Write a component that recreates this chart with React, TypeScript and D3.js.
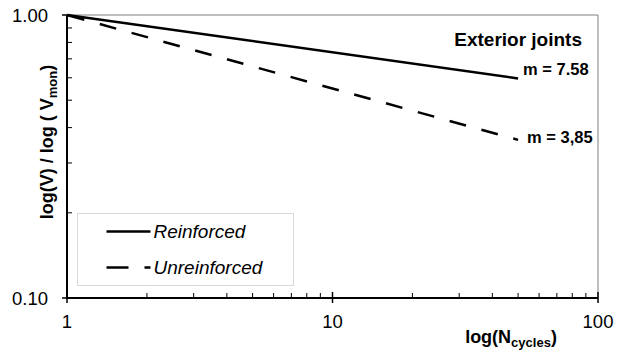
import * as d3 from 'd3';
import { useEffect, useRef } from 'react';

const cycles = [1, 50];
const reinforced = [1.0, 0.597];
const unreinforced = [1.0, 0.362];
const xTicks = [1, 10, 100];
const yTicks = [0.1, 1.0];
const seriesNames = ['Reinforced', 'Unreinforced'];
const slopeLabels = ['m = 7.58', 'm = 3,85'];

const FONT = "'Liberation Sans', Arial, sans-serif";

export default function App() {
  const ref = useRef<SVGSVGElement | null>(null);

  useEffect(() => {
    document.body.style.margin = '0';
    const svg = d3.select(ref.current);
    svg.selectAll('*').remove();

    const width = 620;
    const height = 353;
    const margin = { top: 15, right: 22, bottom: 55, left: 67 };
    const innerW = width - margin.left - margin.right;
    const innerH = height - margin.top - margin.bottom;

    const x = d3.scaleLog().domain([1, 100]).range([0, innerW]);
    const y = d3.scaleLog().domain([0.1, 1]).range([innerH, 0]);

    const g = svg.append('g').attr('transform', `translate(${margin.left},${margin.top})`);

    // plot area border (top / right)
    g.append('path')
      .attr('d', `M0,0H${innerW}V${innerH}`)
      .attr('fill', 'none')
      .attr('stroke', '#7f7f7f')
      .attr('stroke-width', 1);

    // minor ticks
    const xMinor = d3.range(2, 10).flatMap((d) => [d, d * 10]);
    g.selectAll('line.xminor')
      .data(xMinor)
      .enter()
      .append('line')
      .attr('x1', (d) => x(d))
      .attr('x2', (d) => x(d))
      .attr('y1', innerH)
      .attr('y2', innerH - 5)
      .attr('stroke', '#000')
      .attr('stroke-width', 1);

    const yMinor = d3.range(2, 10).map((d) => d / 10);
    g.selectAll('line.yminor')
      .data(yMinor)
      .enter()
      .append('line')
      .attr('x1', 0)
      .attr('x2', 5)
      .attr('y1', (d) => y(d))
      .attr('y2', (d) => y(d))
      .attr('stroke', '#000')
      .attr('stroke-width', 1);

    // major ticks
    g.selectAll('line.xmajor')
      .data(xTicks)
      .enter()
      .append('line')
      .attr('x1', (d) => x(d))
      .attr('x2', (d) => x(d))
      .attr('y1', innerH - 6)
      .attr('y2', innerH + 5)
      .attr('stroke', '#000')
      .attr('stroke-width', 1.5);

    g.selectAll('line.ymajor')
      .data(yTicks)
      .enter()
      .append('line')
      .attr('x1', -5)
      .attr('x2', 0)
      .attr('y1', (d) => y(d))
      .attr('y2', (d) => y(d))
      .attr('stroke', '#000')
      .attr('stroke-width', 1.5);

    // axes lines
    g.append('path')
      .attr('d', `M0,0V${innerH}H${innerW}`)
      .attr('fill', 'none')
      .attr('stroke', '#000')
      .attr('stroke-width', 2);

    // tick labels
    g.selectAll('text.xt')
      .data(xTicks)
      .enter()
      .append('text')
      .attr('x', (d) => x(d))
      .attr('y', innerH + 30)
      .attr('text-anchor', 'middle')
      .attr('font-family', FONT)
      .attr('font-size', 18.5)
      .attr('fill', '#000')
      .text((d) => String(d));

    g.selectAll('text.yt')
      .data(yTicks)
      .enter()
      .append('text')
      .attr('x', -19)
      .attr('y', (d) => y(d))
      .attr('dy', '0.36em')
      .attr('text-anchor', 'end')
      .attr('font-family', FONT)
      .attr('font-size', 18.5)
      .attr('fill', '#000')
      .text((d) => d.toFixed(2));

    // series
    const line = d3
      .line<number>()
      .x((_, i) => x(cycles[i]))
      .y((d) => y(d));

    g.append('path')
      .attr('d', line(reinforced))
      .attr('fill', 'none')
      .attr('stroke', '#000')
      .attr('stroke-width', 2.5);

    g.append('path')
      .attr('d', line(unreinforced))
      .attr('fill', 'none')
      .attr('stroke', '#000')
      .attr('stroke-width', 2.5)
      .attr('stroke-dasharray', '17 16')
      .attr('stroke-dashoffset', -1);

    // slope labels
    const ends = [reinforced[1], unreinforced[1]];
    g.selectAll('text.slope')
      .data(slopeLabels)
      .enter()
      .append('text')
      .attr('x', (_, i) => x(cycles[1]) + (i === 0 ? 5 : 9))
      .attr('y', (_, i) => y(ends[i]) + (i === 0 ? -3 : 3))
      .attr('font-family', FONT)
      .attr('font-size', 16.5)
      .attr('font-weight', 'bold')
      .attr('fill', '#000')
      .text((d) => d);

    g.append('text')
      .attr('x', innerW - 16)
      .attr('y', 31)
      .attr('text-anchor', 'end')
      .attr('font-family', FONT)
      .attr('font-size', 19)
      .attr('font-weight', 'bold')
      .attr('fill', '#000')
      .text('Exterior joints');

    // legend
    const lg = g.append('g').attr('transform', 'translate(10.5,198.5)');
    lg.append('rect')
      .attr('width', 216)
      .attr('height', 72)
      .attr('fill', '#fff')
      .attr('stroke', '#d9d9d9')
      .attr('stroke-width', 1);
    seriesNames.forEach((name, i) => {
      const ly = 18 + i * 36;
      lg.append('line')
        .attr('x1', 29)
        .attr('x2', 73)
        .attr('y1', ly)
        .attr('y2', ly)
        .attr('stroke', '#000')
        .attr('stroke-width', 2.5)
        .attr('stroke-dasharray', i === 1 ? '22 16' : null);
      lg.append('text')
        .attr('x', 76)
        .attr('y', ly)
        .attr('dy', '0.36em')
        .attr('font-family', FONT)
        .attr('font-size', 19)
        .attr('font-style', 'italic')
        .attr('fill', '#000')
        .text(name);
    });

    // axis titles
    const xt = svg
      .append('text')
      .attr('x', 511)
      .attr('y', 343)
      .attr('text-anchor', 'middle')
      .attr('font-family', FONT)
      .attr('font-size', 18)
      .attr('font-weight', 'bold')
      .attr('fill', '#000');
    xt.append('tspan').text('log(N');
    xt.append('tspan').attr('font-size', 13).attr('dy', 4).text('cycles');
    xt.append('tspan').attr('dy', -4).text(')');

    const yt = svg
      .append('text')
      .attr('transform', 'translate(53,142) rotate(-90)')
      .attr('text-anchor', 'middle')
      .attr('font-family', FONT)
      .attr('font-size', 18)
      .attr('font-weight', 'bold')
      .attr('fill', '#000');
    yt.append('tspan').text('log(V) / log ( V');
    yt.append('tspan').attr('font-size', 13).attr('dy', 4).text('mon');
    yt.append('tspan').attr('dy', -4).text(')');
  }, []);

  return <svg ref={ref} width={620} height={353} style={{ display: 'block', background: '#fff' }} />;
}
